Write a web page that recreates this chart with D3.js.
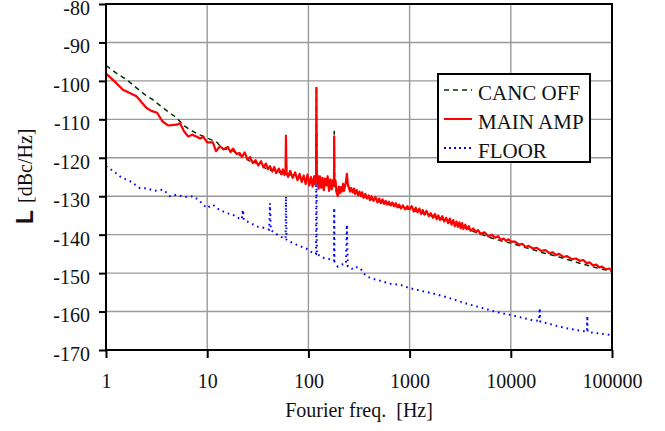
<!DOCTYPE html>
<html>
<head>
<meta charset="utf-8">
<script src="https://cdn.jsdelivr.net/npm/d3@7"></script>
<style>
  body { margin: 0; background: #fff; }
  svg text { font-family: "Liberation Serif", "Times New Roman", serif; }
</style>
</head>
<body>
<script>
// series: [frequency Hz, dBc/Hz]
let cancOff = [
  [1, -96], [1.3, -98.2], [1.6, -99.7], [2, -101.8], [2.4, -103.5], [2.9, -104.9],
  [3.5, -106.6], [4.2, -108.2], [5, -109.6], [5.4, -110.6], [6, -111.8], [6.8, -112.7],
  [8, -113.8], [9.9, -114.8], [12.5, -116], [14, -117.6], [16, -117.8], [18, -118.2],
  [20, -119.2], [23, -119.5], [26, -120.8], [30, -121.3], [34, -121.8], [40, -123.3],
  [46, -123.2], [52, -123.8], [58, -124.8], [59.5, -124], [60, -114], [60.8, -124.4],
  [66, -124.4], [74, -125], [82, -125.2], [90, -125.8], [98, -125.6], [106, -126],
  [114, -126], [119, -126], [120, -101.4], [121, -126.5], [130, -126], [140, -127],
  [150, -126.4], [160, -127.6], [170, -127], [179, -127.4], [180, -113], [181, -127.8],
  [190, -128.8], [200, -128.6], [220, -127.8], [240, -126.6], [260, -128.6], [290, -129],
  [330, -129.8], [380, -130.4], [440, -131], [520, -131.6], [600, -132], [700, -132.4],
  [820, -133], [1000, -133.4], [1200, -134], [1400, -134.6], [1700, -135.2], [2000, -135.8],
  [2400, -136.6], [2800, -137.2], [3400, -138], [4000, -138.9], [5000, -139.8], [6000, -140.6],
  [8000, -141.6], [10000, -142.2], [13000, -143.1], [17000, -144], [22000, -144.9],
  [30000, -145.8], [40000, -146.8], [52000, -147.7], [70000, -148.6], [100000, -149.6]
]

let mainAmp = [
  [1, -98.1], [1.2, -100], [1.47, -102.3], [2, -104], [2.5, -107], [2.8, -107.8],
  [3.2, -108.3], [3.6, -110.5], [4.1, -111.6], [5, -111.4], [5.4, -111], [5.9, -113.1],
  [6.5, -114.5], [7.1, -114], [8, -114.6], [8.5, -115], [9.1, -114.5], [10, -116],
  [11.4, -116], [12.2, -118.3], [13.4, -117], [14.5, -117.8], [16, -117.2], [17, -118.5],
  [18, -117.6], [19.5, -119], [21, -118.8], [22, -119.8], [23.5, -118.6], [25, -120.5],
  [26.5, -119.8], [28.3, -121.4], [30, -120.6], [32, -122], [34, -120.9], [36, -122.5],
  [38, -121.5], [40, -123], [41.7, -122.2], [44, -123.6], [46, -122.4], [48, -124],
  [51, -122.8], [54, -124.3], [56, -123], [58, -124.5], [59.5, -123.2], [60, -114.4],
  [60.8, -123.8], [63, -125], [66, -123.4], [70, -125.2], [74, -123.8], [78, -125.8],
  [82, -124.2], [86, -126.3], [90, -124.6], [94, -126.8], [98, -124.4], [102, -127.2],
  [106, -125], [110, -127.5], [114, -124.8], [117, -127], [119, -125], [120, -101.8],
  [121, -126], [123, -124.5], [126, -128], [130, -124.8], [134, -127.8], [138, -125.2],
  [142, -128.4], [146, -125.4], [150, -127.2], [155, -124.8], [160, -128.6], [165, -125.6],
  [170, -128.2], [175, -125.8], [179, -127], [180, -114.4], [181, -127.2], [185, -125.8],
  [190, -129], [195, -130], [200, -127.5], [205, -129.2], [210, -127.6], [215, -128.8],
  [220, -126.8], [225, -128.6], [230, -127.4], [235, -126.2], [240, -124.2], [245, -126.8],
  [250, -127.6], [258, -128.8], [265, -127.8], [275, -129], [283, -128], [290, -129.4],
  [300, -128.4], [310, -129.8], [320, -128.8], [330, -130], [340, -129], [350, -130.4],
  [365, -129.4], [380, -130.6], [395, -129.8], [405, -131], [420, -130], [440, -131.2],
  [460, -130.2], [480, -131.6], [500, -130.6], [520, -131.8], [540, -130.8], [560, -132],
  [580, -131.2], [600, -132.2], [625, -131.4], [650, -132.4], [675, -131.6], [700, -132.6],
  [730, -131.8], [760, -132.9], [790, -132.2], [820, -133.2], [860, -132.4], [900, -133.4],
  [950, -132.6], [1000, -133.4], [1050, -132.6], [1100, -134], [1150, -133], [1200, -134.2],
  [1250, -133.2], [1300, -134.6], [1350, -133.6], [1400, -134.8], [1470, -133.8],
  [1550, -135.2], [1620, -134.4], [1700, -135.6], [1780, -134.6], [1850, -136],
  [1920, -135], [2000, -136.2], [2100, -135.2], [2200, -136.6], [2300, -135.6],
  [2400, -137], [2500, -135.8], [2600, -137.4], [2700, -136.2], [2800, -137.8],
  [2900, -136.6], [3000, -138], [3100, -136.8], [3200, -138.3], [3300, -137],
  [3400, -138.5], [3550, -137.4], [3700, -138.6], [3850, -137.8], [4000, -139],
  [4250, -138.4], [4500, -139.3], [4750, -138.8], [5000, -139.8], [5500, -139.4],
  [6000, -140.4], [6500, -140], [7000, -140.8], [7500, -140.4], [8000, -141.4],
  [8500, -141], [9000, -141.6], [9500, -141.2], [10000, -141.8], [11000, -141.8],
  [12000, -142.6], [13000, -142.4], [14000, -143.2], [15000, -142.9], [16500, -143.6],
  [18000, -143.4], [20000, -144.2], [22000, -144], [24000, -144.8], [26000, -144.6],
  [28000, -145.3], [30000, -145], [33000, -145.8], [36000, -145.6], [40000, -146.4],
  [44000, -146.2], [48000, -146.8], [52000, -146.6], [56000, -147.4], [60000, -147.2],
  [65000, -148], [70000, -147.8], [75000, -148.5], [80000, -148.3], [87000, -149],
  [94000, -148.8], [100000, -149.4]
]

let floorData = [
  [1, -122.2], [1.2, -123.6], [1.4, -125], [1.73, -126.1], [2.17, -127.9], [2.5, -127.9],
  [3, -128.6], [3.7, -128.3], [4.3, -130], [5, -129.6], [6, -130.2], [7.3, -130],
  [8.5, -131.3], [9.9, -133.1], [11.4, -132.2], [13, -133.4], [15.6, -134.4], [18, -134.8],
  [20, -135.6], [22, -136], [22.5, -133.5], [23, -136.2], [26, -136.8], [31, -137.9],
  [36, -138.2], [41, -138.7], [41.7, -131.8], [42.5, -138.8], [48, -139.8], [54, -140.6],
  [59.5, -141], [60, -130], [60.8, -141.3], [70, -142.2], [83, -143], [95, -143.6],
  [105, -144.4], [112, -144.8], [119, -145], [120, -114], [121, -145.2], [130, -145.4],
  [140, -146], [155, -146.2], [170, -146.6], [179, -146.8], [180, -133], [181, -147],
  [195, -148.3], [210, -147.8], [235, -147.6], [240, -137.4], [245, -148.2], [260, -148.4],
  [275, -149.1], [300, -148.5], [325, -148.7], [350, -150], [380, -150.9], [450, -151.6],
  [550, -152.2], [650, -152.8], [800, -153], [1000, -153.9], [1300, -154.6], [1700, -155.3],
  [2150, -156], [2700, -156.8], [3400, -157.7], [4200, -158.4], [5300, -159.1], [6500, -159.8],
  [8000, -160.4], [10000, -160.9], [13000, -161.6], [16000, -162.2], [19000, -162.4],
  [19300, -159.1], [19600, -162.6], [24000, -163.2], [29000, -163.8], [35000, -164.3],
  [42000, -164.7], [50000, -165], [56500, -165.2], [57000, -161.1], [57500, -165.3],
  [70000, -165.6], [85000, -165.9], [100000, -166.1]
]

let xTicks = [1, 10, 100, 1000, 10000, 100000]
let yTicks = [-80, -90, -100, -110, -120, -130, -140, -150, -160, -170]
let legendNames = ["CANC OFF", "MAIN AMP", "FLOOR"]

let W = 665, H = 431
let pL = 106, pR = 612, pT = 4, pB = 350

let svg = d3.select('body').append('svg')
    .attr('width', W)
    .attr('height', H)

let x = d3.scaleLog().domain([1, 100000]).range([pL, pR])
let y = d3.scaleLinear().domain([-170, -80]).range([pB, pT])

// grid
svg.append('g').selectAll('line')
    .data(xTicks)
    .join('line')
    .attr('x1', d => x(d)).attr('x2', d => x(d))
    .attr('y1', pT).attr('y2', pB)
    .attr('stroke', '#999')
    .attr('stroke-width', 1.4)
svg.append('g').selectAll('line')
    .data(yTicks)
    .join('line')
    .attr('x1', pL).attr('x2', pR)
    .attr('y1', d => y(d)).attr('y2', d => y(d))
    .attr('stroke', '#999')
    .attr('stroke-width', 1.4)

let line = d3.line()
    .x(d => x(d[0]))
    .y(d => y(d[1]))

svg.append('path')
    .datum(floorData)
    .attr('d', line)
    .attr('fill', 'none')
    .attr('stroke', '#0000ff')
    .attr('stroke-width', 2)
    .attr('stroke-dasharray', '1.6,4')

svg.append('path')
    .datum(cancOff)
    .attr('d', line)
    .attr('fill', 'none')
    .attr('stroke', '#003300')
    .attr('stroke-width', 1.5)
    .attr('stroke-dasharray', '5,4')

svg.append('path')
    .datum(mainAmp)
    .attr('d', line)
    .attr('fill', 'none')
    .attr('stroke', '#ff0000')
    .attr('stroke-width', 2.2)
    .attr('stroke-linejoin', 'round')

// frame
svg.append('rect')
    .attr('x', pL).attr('y', pT)
    .attr('width', pR - pL).attr('height', pB - pT)
    .attr('fill', 'none')
    .attr('stroke', '#000')
    .attr('stroke-width', 2)

// axes
let yAxis = svg.append('g')
    .attr('transform', `translate(${pL},0)`)
    .call(d3.axisLeft(y).tickValues(yTicks).tickSize(7).tickPadding(9).tickFormat(d => String(d)))
let xAxis = svg.append('g')
    .attr('transform', `translate(0,${pB})`)
    .call(d3.axisBottom(x).tickValues(xTicks).tickSize(8).tickPadding(16).tickFormat(d => String(d)))

for (let ax of [xAxis, yAxis]) {
    ax.select('.domain').remove()
    ax.selectAll('.tick line').attr('stroke', '#000').attr('stroke-width', 2)
    ax.selectAll('.tick text')
        .attr('fill', '#111')
        .style('font-family', '"Liberation Serif", serif')
        .style('font-size', '20px')
}
yAxis.selectAll('.tick text').attr('dy', '0.52em')

// axis titles
svg.append('text')
    .attr('x', (pL + pR) / 2)
    .attr('y', 417)
    .attr('text-anchor', 'middle')
    .style('font-size', '20px')
    .style('white-space', 'pre')
    .attr('fill', '#111')
    .text('Fourier freq.  [Hz]')

svg.append('text')
    .attr('transform', 'translate(33,224) rotate(-90)')
    .style('font-family', '"Liberation Sans", Arial, sans-serif')
    .style('font-weight', 'bold')
    .style('font-size', '23px')
    .attr('fill', '#111')
    .text('L')
svg.append('text')
    .attr('transform', 'translate(32,203) rotate(-90)')
    .style('font-size', '20px')
    .attr('fill', '#111')
    .text('[dBc/Hz]')

// legend
let lg = svg.append('g').attr('transform', 'translate(438,74)')
lg.append('rect')
    .attr('width', 152).attr('height', 88)
    .attr('fill', '#fff')
    .attr('stroke', '#000')
    .attr('stroke-width', 2)
let styles = [
    { stroke: '#003300', dash: '5,4', w: 1.5 },
    { stroke: '#ff0000', dash: null, w: 2 },
    { stroke: '#0000ff', dash: '2,3', w: 2 }
]
legendNames.forEach((name, i) => {
    let cy = 16 + i * 29
    lg.append('line')
        .attr('x1', 6).attr('x2', 34)
        .attr('y1', cy).attr('y2', cy)
        .attr('stroke', styles[i].stroke)
        .attr('stroke-width', styles[i].w)
        .attr('stroke-dasharray', styles[i].dash)
    lg.append('text')
        .attr('x', 40).attr('y', cy + 10)
        .style('font-size', '21px')
        .attr('fill', '#111')
        .text(name)
})
</script>
</body>
</html>
